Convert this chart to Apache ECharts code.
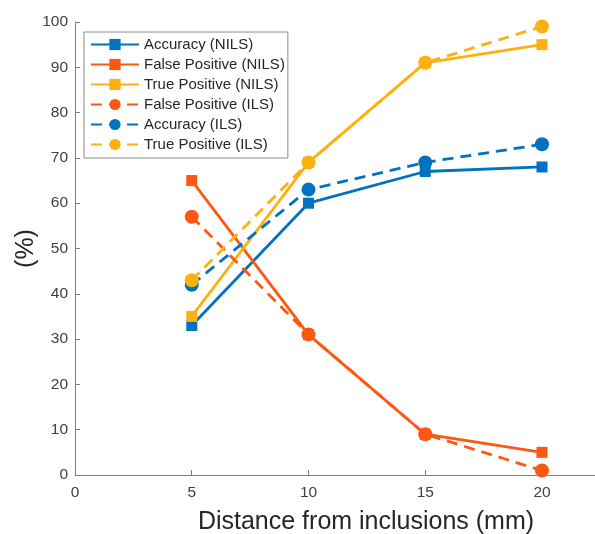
<!DOCTYPE html>
<html>
<head>
<meta charset="utf-8">
<script src="https://cdn.jsdelivr.net/npm/echarts@6/dist/echarts.min.js"></script>
<style>
  html, body { margin: 0; padding: 0; background: #fff; }
  #chart { width: 595px; height: 534px; }
</style>
</head>
<body>
<div id="chart"></div>
<script>
// Distance from inclusions (mm)
const distances = [5, 10, 15, 20];

// Detection rates (%) without inclusion-level segmentation (NILS)
const accuracyNILS = [33, 60, 67, 68];
const falsePositiveNILS = [65, 31, 9, 5];
const truePositiveNILS = [35, 69, 91, 95];

// Detection rates (%) with inclusion-level segmentation (ILS)
const falsePositiveILS = [57, 31, 9, 1];
const accuracyILS = [42, 63, 69, 73];
const truePositiveILS = [43, 69, 91, 99];

const xTicks = [0, 5, 10, 15, 20];
const yTicks = [0, 10, 20, 30, 40, 50, 60, 70, 80, 90, 100];

const BLUE = '#0072C0';
const ORANGE = '#FC5814';
const YELLOW = '#FDB111';
const FONT = 'Liberation Sans';

function pairs(values) {
  return distances.map((d, i) => [d, values[i]]);
}

function makeSeries(name, values, color, dashed) {
  return {
    name: name,
    type: 'line',
    data: pairs(values),
    symbol: dashed ? 'circle' : 'rect',
    symbolSize: dashed ? 14 : 11,
    showAllSymbol: true,
    lineStyle: { color: color, width: 2.8, type: dashed ? [11, 7] : 'solid' },
    itemStyle: { color: color },
    emphasis: { disabled: true },
    animation: false
  };
}

const chart = echarts.init(document.getElementById('chart'), null, { renderer: 'canvas' });

chart.setOption({
  backgroundColor: '#ffffff',
  animation: false,
  grid: { left: 75, top: 22, right: 0, bottom: 59, containLabel: false, outerBoundsMode: 'none' },
  legend: {
    orient: 'vertical',
    left: 84,
    top: 32,
    padding: [5, 3, 6, 6],
    itemWidth: 48,
    itemHeight: 14,
    itemGap: 5,
    borderColor: '#8a8a8a',
    borderWidth: 1,
    backgroundColor: '#ffffff',
    textStyle: { fontFamily: FONT, fontSize: 15, lineHeight: 14, color: '#262626' },
    data: [
      'Accuracy (NILS)', 'False Positive (NILS)', 'True Positive (NILS)',
      'False Positive (ILS)', 'Accuracy (ILS)', 'True Positive (ILS)'
    ]
  },
  xAxis: {
    type: 'value',
    min: 0,
    max: 22.27,
    interval: 5,
    name: 'Distance from inclusions (mm)',
    nameLocation: 'middle',
    nameGap: 35,
    nameMoveOverlap: false,
    nameTextStyle: { fontFamily: FONT, fontSize: 25, color: '#262626', padding: [0, 0, 0, 62] },
    axisLine: { show: true, lineStyle: { color: '#7f7f7f', width: 1 } },
    axisTick: { show: true, inside: true, length: 5, lineStyle: { color: '#7f7f7f' } },
    axisLabel: {
      fontFamily: FONT, fontSize: 15.5, color: '#404040', margin: 10,
      showMaxLabel: false,
      formatter: v => (xTicks.includes(v) ? String(v) : '')
    },
    splitLine: { show: false }
  },
  yAxis: {
    type: 'value',
    min: 0,
    max: 100,
    interval: 10,
    name: '(%)',
    nameLocation: 'middle',
    nameGap: 36,
    nameMoveOverlap: false,
    nameTextStyle: { fontFamily: FONT, fontSize: 25, color: '#262626' },
    axisLine: { show: true, lineStyle: { color: '#7f7f7f', width: 1 } },
    axisTick: { show: true, inside: true, length: 5, lineStyle: { color: '#7f7f7f' } },
    axisLabel: {
      fontFamily: FONT, fontSize: 15.5, color: '#404040', margin: 7,
      formatter: v => (yTicks.includes(v) ? String(v) : '')
    },
    splitLine: { show: false }
  },
  series: [
    makeSeries('Accuracy (NILS)', accuracyNILS, BLUE, false),
    makeSeries('False Positive (NILS)', falsePositiveNILS, ORANGE, false),
    makeSeries('True Positive (NILS)', truePositiveNILS, YELLOW, false),
    makeSeries('False Positive (ILS)', falsePositiveILS, ORANGE, true),
    makeSeries('Accuracy (ILS)', accuracyILS, BLUE, true),
    makeSeries('True Positive (ILS)', truePositiveILS, YELLOW, true)
  ]
});
</script>
</body>
</html>
